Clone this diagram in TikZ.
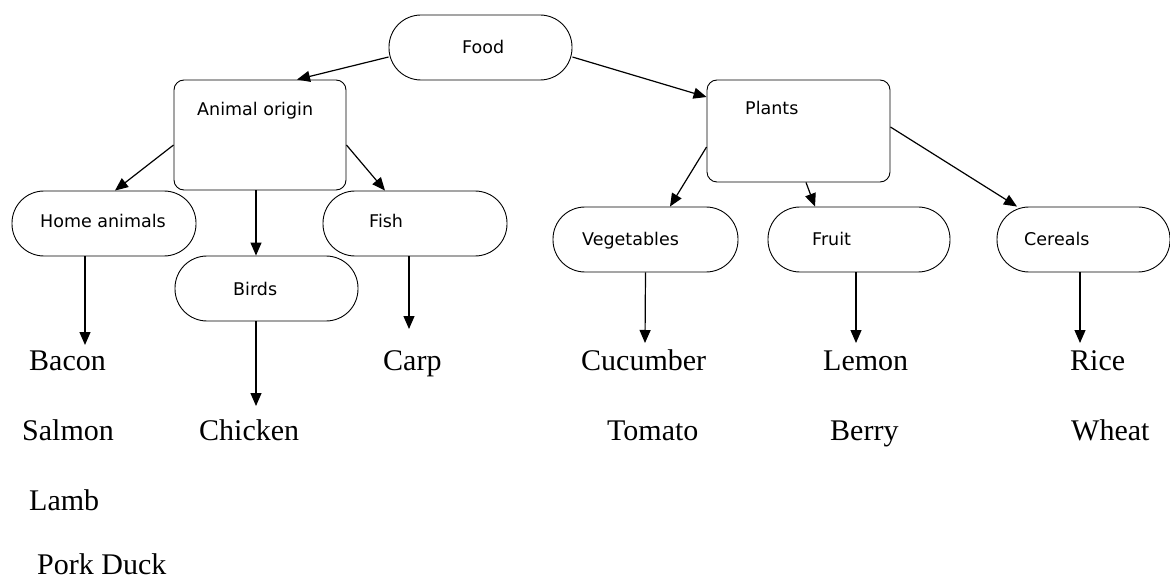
\documentclass[tikz,border=0pt]{standalone}
\usepackage{fontspec}
\setmainfont{Liberation Serif}
\newfontfamily\boxfont{DejaVu Sans}
\usetikzlibrary{arrows.meta}
\begin{document}
\begin{tikzpicture}[x=1pt,y=-1pt,
  pill/.style={draw, line width=0.9pt, rounded corners=32pt, minimum width=183pt, minimum height=65pt, inner sep=0pt},
  rbox/.style={draw, line width=0.9pt, rounded corners=10pt, inner sep=0pt},
  blab/.style={font=\boxfont\fontsize{17.5}{20}\selectfont, inner sep=0pt, anchor=base west},
  item/.style={font=\fontsize{30}{32}\selectfont, inner sep=0pt, anchor=base west},
  arr/.style={line width=1.2pt, -{Triangle[length=13pt,width=11pt]}}]
\useasboundingbox (0,0) rectangle (1170,580);
% boxes
\node[pill] (food) at (480.5,47.5) {};
\node[rbox, minimum width=172pt, minimum height=110pt] (animal) at (260,135) {};
\node[rbox, minimum width=183pt, minimum height=102pt] (plants) at (798.5,131) {};
\node[pill, minimum width=184pt] (home) at (104,223.5) {};
\node[pill, minimum width=184pt] (fish) at (415,223.5) {};
\node[pill] (birds) at (266.5,288.5) {};
\node[pill, minimum width=185pt] (veg) at (645.5,239.5) {};
\node[pill, minimum width=182pt] (fruit) at (859,239.5) {};
\node[pill, minimum width=173pt] (cereals) at (1083.5,239.5) {};
% box labels
\node[blab] (foodt) at (462,54) {Food};
\node[blab] (animalt) at (197,116) {Animal origin};
\node[blab] (plantst) at (745,115) {Plants};
\node[blab] (homet) at (40,228) {Home animals};
\node[blab] (fisht) at (369,228) {Fish};
\node[blab] (birdst) at (233,295) {Birds};
\node[blab] (vegt) at (582,246) {Vegetables};
\node[blab] (fruitt) at (812,246) {Fruit};
\node[blab] (cerealst) at (1024,246) {Cereals};
% items
\node[item] (bacon) at (29,370) {Bacon};
\node[item] (salmon) at (22,440) {Salmon};
\node[item] (lamb) at (29,510) {Lamb};
\node[item] (porkduck) at (37,574) {Pork Duck};
\node[item] (chicken) at (199,440) {Chicken};
\node[item] (carp) at (383,370) {Carp};
\node[item] (cucumber) at (581,370) {Cucumber};
\node[item] (tomato) at (607,440) {Tomato};
\node[item] (lemon) at (823,370) {Lemon};
\node[item] (berry) at (830,440) {Berry};
\node[item] (rice) at (1070,370) {Rice};
\node[item] (wheat) at (1071,440) {Wheat};
% arrow ends
\coordinate (eh) at (85,345);
\coordinate (eb) at (256,406);
\coordinate (ef) at (409,329);
\coordinate (ev) at (645,343);
\coordinate (efr) at (856,343);
\coordinate (ec) at (1080,343);
% connectors
\draw[arr] ([yshift=-9.5pt]food.west) -- ([xshift=37pt]animal.north);
\draw[arr] ([yshift=-9.5pt]food.east) -- ([yshift=34pt]plants.west);
\draw[arr] ([yshift=-10pt]animal.west) -- ([xshift=11pt]home.north);
\draw[arr] ([yshift=-10pt]animal.east) -- ([xshift=-30pt]fish.north);
\draw[arr] ([xshift=-4pt]animal.south) -- ([xshift=-10.5pt]birds.north);
\draw[arr] ([yshift=-16pt]plants.west) -- ([xshift=24.5pt]veg.north);
\draw[arr] ([xshift=7.5pt]plants.south) -- ([xshift=-44pt]fruit.north);
\draw[arr] ([yshift=4pt]plants.east) -- ([xshift=-66.5pt]cereals.north);
\draw[arr] ([xshift=-19pt]home.south) -- (eh);
\draw[arr] ([xshift=-10.5pt]birds.south) -- (eb);
\draw[arr] ([xshift=-6pt]fish.south) -- (ef);
\draw[arr] (veg.south) -- (ev);
\draw[arr] ([xshift=-3pt]fruit.south) -- (efr);
\draw[arr] ([xshift=-3.5pt]cereals.south) -- (ec);
\end{tikzpicture}
\end{document}
